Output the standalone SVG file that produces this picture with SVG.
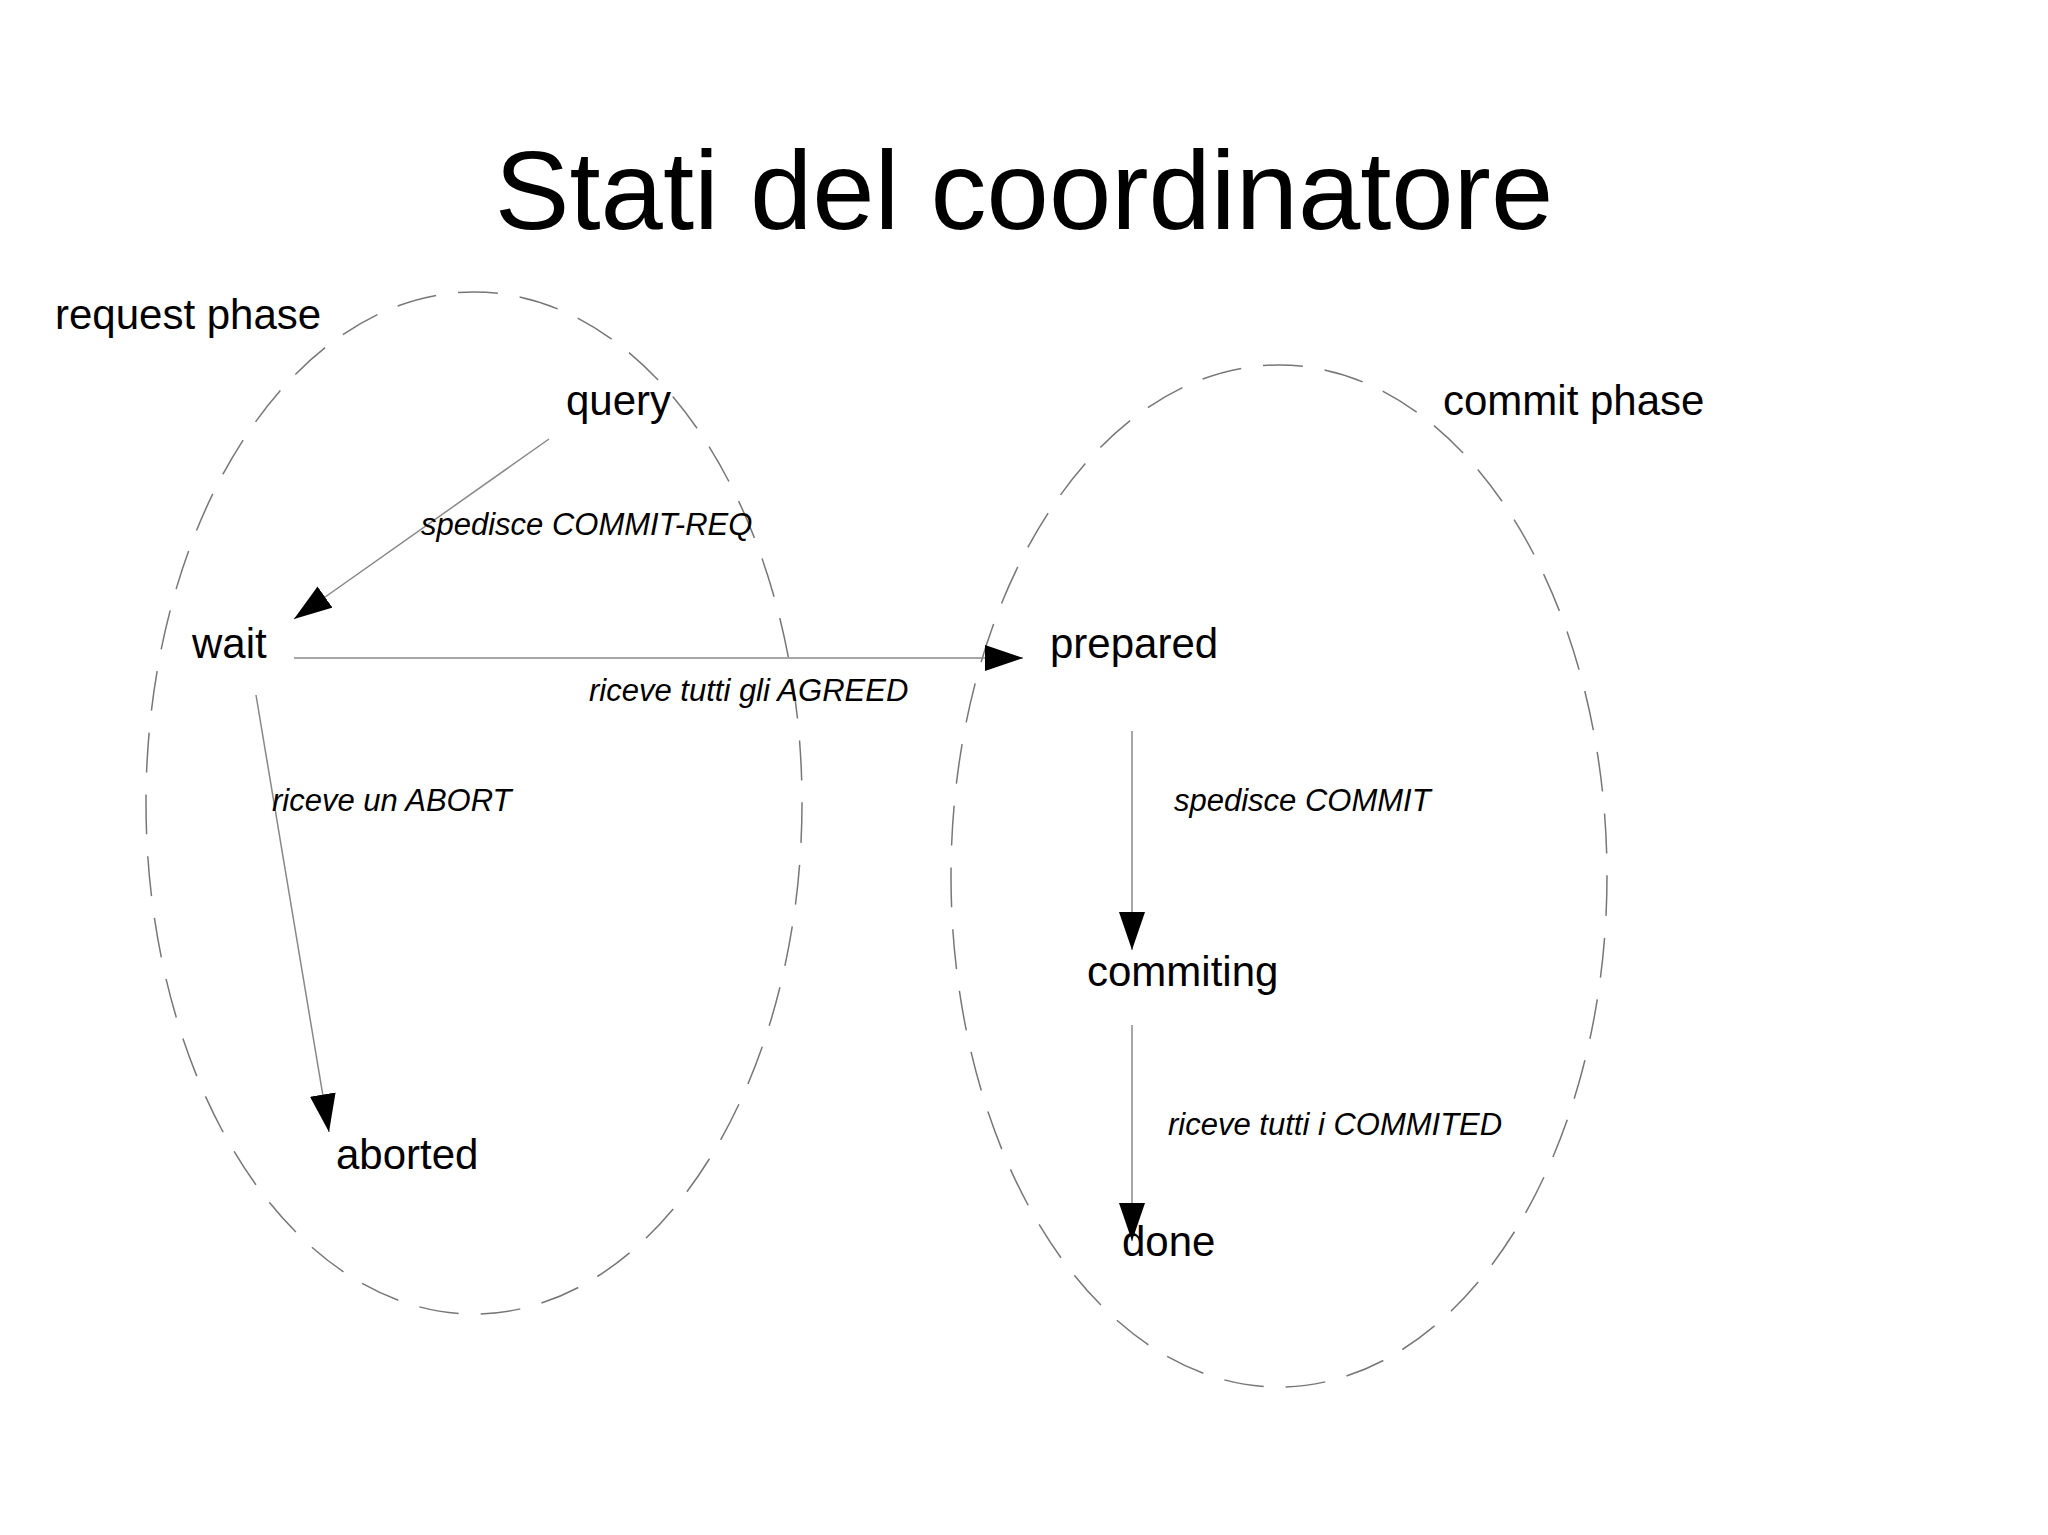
<svg xmlns="http://www.w3.org/2000/svg" width="2048" height="1535" viewBox="0 0 2048 1535">
<style>
.t{font-family:"Liberation Sans",Arial,sans-serif;fill:#000}
.n{font-size:42px}
.e{font-size:31px;font-style:italic}
.ph{fill:none;stroke:#777;stroke-width:1.5;stroke-dasharray:40 22}
.c{stroke:#888;stroke-width:1.5;fill:none;marker-end:url(#a)}
</style>
<defs>
<marker id="a" markerUnits="userSpaceOnUse" markerWidth="40" markerHeight="26" refX="38" refY="13" orient="auto"><path d="M0,0 L38,13 L0,26 Z" fill="#000"/></marker>
</defs>
<rect width="2048" height="1535" fill="#fff"/>
<text class="t" x="1024" y="229" font-size="112" text-anchor="middle">Stati del coordinatore</text>
<g id="request-phase"><ellipse class="ph" cx="474" cy="803" rx="328" ry="511"/><text class="t n" x="55" y="329">request phase</text></g>
<g id="commit-phase"><ellipse class="ph" cx="1279" cy="876" rx="328" ry="511"/><text class="t n" x="1443" y="415">commit phase</text></g>
<g id="query"><text class="t n" x="566" y="415">query</text></g>
<g id="wait"><text class="t n" x="192" y="658">wait</text></g>
<g id="prepared"><text class="t n" x="1050" y="658">prepared</text></g>
<g id="commiting"><text class="t n" x="1087" y="986">commiting</text></g>
<g id="aborted"><text class="t n" x="336" y="1169">aborted</text></g>
<g id="done"><text class="t n" x="1122" y="1256">done</text></g>
<g id="connectors">
<line class="c" x1="549" y1="439" x2="294" y2="619"/>
<line class="c" x1="294" y1="658" x2="1023" y2="658"/>
<line class="c" x1="256" y1="695" x2="329" y2="1132"/>
<line class="c" x1="1132" y1="731" x2="1132" y2="950"/>
<line class="c" x1="1132" y1="1025" x2="1132" y2="1241"/>
<text class="t e" x="421" y="535">spedisce COMMIT-REQ</text>
<text class="t e" x="589" y="701">riceve tutti gli AGREED</text>
<text class="t e" x="272" y="811">riceve un ABORT</text>
<text class="t e" x="1174" y="811">spedisce COMMIT</text>
<text class="t e" x="1168" y="1135">riceve tutti i COMMITED</text>
</g>
</svg>
